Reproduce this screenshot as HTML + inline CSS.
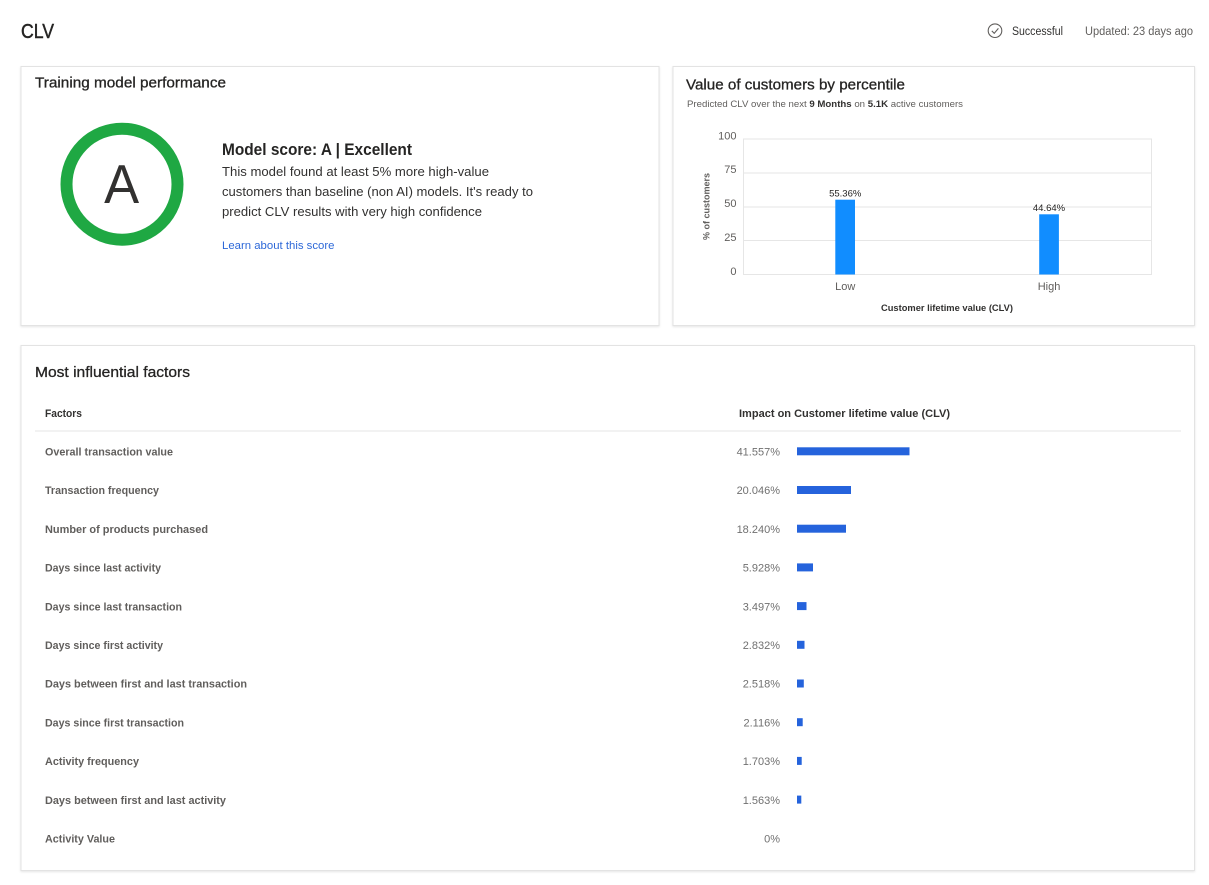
<!DOCTYPE html>
<html>
<head>
<meta charset="utf-8">
<style>
  html, body { margin: 0; padding: 0; background: #ffffff; }
  body { width: 1209px; height: 885px; overflow: hidden; }
  svg { display: block; }
  text { font-family: "Liberation Sans", "DejaVu Sans", sans-serif; }
</style>
</head>
<body>
<svg width="1209" height="885" viewBox="0 0 1209 885" xmlns="http://www.w3.org/2000/svg">
  <defs>
    <filter id="sh" x="-5%" y="-5%" width="110%" height="115%">
      <feDropShadow dx="0" dy="1" stdDeviation="1" flood-color="#000" flood-opacity="0.10"/>
    </filter>
  </defs>
  <rect x="0" y="0" width="1209" height="885" fill="#ffffff"/>

  <!-- Header -->
  <text x="21" y="38" font-size="20" fill="#252423" stroke="#252423" stroke-width="0.45" textLength="33" lengthAdjust="spacingAndGlyphs">CLV</text>
  <circle cx="995" cy="30.7" r="6.8" fill="none" stroke="#605e5c" stroke-width="1.1"/>
  <path d="M991.8 30.9 L994.2 33.3 L998.4 28.4" fill="none" stroke="#605e5c" stroke-width="1.1"/>
  <text x="1012" y="35" font-size="11.5" fill="#323130" textLength="51" lengthAdjust="spacingAndGlyphs">Successful</text>
  <text x="1085" y="35" font-size="11.5" fill="#605e5c" textLength="108" lengthAdjust="spacingAndGlyphs">Updated: 23 days ago</text>

  <!-- Cards -->
  <rect x="21" y="66.5" width="638" height="259" fill="#fff" stroke="#e3e3e3" stroke-width="1" filter="url(#sh)"/>
  <rect x="673" y="66.5" width="521.5" height="259" fill="#fff" stroke="#e3e3e3" stroke-width="1" filter="url(#sh)"/>
  <rect x="21" y="345.5" width="1173.5" height="525" fill="#fff" stroke="#e3e3e3" stroke-width="1" filter="url(#sh)"/>

  <!-- Training model performance -->
  <text x="35" y="87.5" font-size="15" fill="#252423" stroke="#252423" stroke-width="0.3" textLength="191" lengthAdjust="spacingAndGlyphs">Training model performance</text>
  <circle cx="122" cy="184.2" r="55.5" fill="none" stroke="#1fa843" stroke-width="12"/>
  <text x="121.6" y="203" font-size="55" fill="#323130" text-anchor="middle" textLength="35" lengthAdjust="spacingAndGlyphs">A</text>
  <text x="222" y="155" font-size="16.5" font-weight="bold" fill="#252423" textLength="190" lengthAdjust="spacingAndGlyphs">Model score: A | Excellent</text>
  <text x="222" y="176" font-size="13" fill="#323130" textLength="267" lengthAdjust="spacingAndGlyphs">This model found at least 5% more high-value</text>
  <text x="222" y="196" font-size="13" fill="#323130" textLength="311" lengthAdjust="spacingAndGlyphs">customers than baseline (non AI) models. It's ready to</text>
  <text x="222" y="216" font-size="13" fill="#323130" textLength="260" lengthAdjust="spacingAndGlyphs">predict CLV results with very high confidence</text>
  <text x="222" y="249" font-size="11" fill="#2d68d8" textLength="112.5" lengthAdjust="spacingAndGlyphs">Learn about this score</text>

  <!-- Value of customers by percentile -->
  <text x="686" y="89.5" font-size="15" fill="#252423" stroke="#252423" stroke-width="0.3" textLength="219" lengthAdjust="spacingAndGlyphs">Value of customers by percentile</text>
  <text x="687" y="107" font-size="9.5" fill="#605e5c" textLength="276" lengthAdjust="spacingAndGlyphs">Predicted CLV over the next <tspan font-weight="bold" fill="#323130">9 Months</tspan> on <tspan font-weight="bold" fill="#323130">5.1K</tspan> active customers</text>

  <!-- plot area -->
  <rect x="743.5" y="139" width="408" height="135.5" fill="none" stroke="#e6e6e6" stroke-width="1"/>
  <line x1="743.5" y1="173" x2="1151.5" y2="173" stroke="#e6e6e6" stroke-width="1"/>
  <line x1="743.5" y1="207" x2="1151.5" y2="207" stroke="#e6e6e6" stroke-width="1"/>
  <line x1="743.5" y1="240.5" x2="1151.5" y2="240.5" stroke="#e6e6e6" stroke-width="1"/>
  <g font-size="11" fill="#605e5c" text-anchor="end">
    <text x="736.5" y="139.5">100</text>
    <text x="736.5" y="173.2">75</text>
    <text x="736.5" y="207">50</text>
    <text x="736.5" y="241">25</text>
    <text x="736.5" y="274.8">0</text>
  </g>
  <text transform="translate(709.3,206.5) rotate(-90)" font-size="9.5" font-weight="bold" fill="#605e5c" text-anchor="middle" textLength="67" lengthAdjust="spacingAndGlyphs">% of customers</text>
  <rect x="835.3" y="199.7" width="19.7" height="74.8" fill="#118dff"/>
  <rect x="1039.2" y="214.3" width="19.7" height="60.2" fill="#118dff"/>
  <text x="845.2" y="196.5" font-size="9.5" fill="#252423" text-anchor="middle">55.36%</text>
  <text x="1049" y="211" font-size="9.5" fill="#252423" text-anchor="middle">44.64%</text>
  <text x="845.2" y="290" font-size="11" fill="#605e5c" text-anchor="middle">Low</text>
  <text x="1049" y="290" font-size="11" fill="#605e5c" text-anchor="middle">High</text>
  <text x="947" y="311" font-size="9.5" font-weight="bold" fill="#323130" text-anchor="middle" textLength="132" lengthAdjust="spacingAndGlyphs">Customer lifetime value (CLV)</text>

  <!-- Most influential factors -->
  <text x="35" y="377" font-size="15" fill="#252423" stroke="#252423" stroke-width="0.3" textLength="155" lengthAdjust="spacingAndGlyphs">Most influential factors</text>
  <text x="45" y="417" font-size="11" font-weight="bold" fill="#323130" textLength="37" lengthAdjust="spacingAndGlyphs">Factors</text>
  <text x="739" y="417" font-size="11" font-weight="bold" fill="#323130" textLength="211" lengthAdjust="spacingAndGlyphs">Impact on Customer lifetime value (CLV)</text>
  <line x1="35" y1="431" x2="1181" y2="431" stroke="#ebebeb" stroke-width="1.2"/>

  <g font-size="11" font-weight="bold" fill="#605e5c">
    <text x="45" y="455.5" textLength="128" lengthAdjust="spacingAndGlyphs">Overall transaction value</text>
    <text x="45" y="494.2" textLength="114" lengthAdjust="spacingAndGlyphs">Transaction frequency</text>
    <text x="45" y="532.9" textLength="163" lengthAdjust="spacingAndGlyphs">Number of products purchased</text>
    <text x="45" y="571.6" textLength="116" lengthAdjust="spacingAndGlyphs">Days since last activity</text>
    <text x="45" y="610.3" textLength="137" lengthAdjust="spacingAndGlyphs">Days since last transaction</text>
    <text x="45" y="649" textLength="118" lengthAdjust="spacingAndGlyphs">Days since first activity</text>
    <text x="45" y="687.7" textLength="202" lengthAdjust="spacingAndGlyphs">Days between first and last transaction</text>
    <text x="45" y="726.4" textLength="139" lengthAdjust="spacingAndGlyphs">Days since first transaction</text>
    <text x="45" y="765.1" textLength="94" lengthAdjust="spacingAndGlyphs">Activity frequency</text>
    <text x="45" y="803.8" textLength="181" lengthAdjust="spacingAndGlyphs">Days between first and last activity</text>
    <text x="45" y="842.5" textLength="70" lengthAdjust="spacingAndGlyphs">Activity Value</text>
  </g>

  <g font-size="11" fill="#707070" text-anchor="end">
    <text x="780" y="455.5">41.557%</text>
    <text x="780" y="494.2">20.046%</text>
    <text x="780" y="532.9">18.240%</text>
    <text x="780" y="571.6">5.928%</text>
    <text x="780" y="610.3">3.497%</text>
    <text x="780" y="649">2.832%</text>
    <text x="780" y="687.7">2.518%</text>
    <text x="780" y="726.4">2.116%</text>
    <text x="780" y="765.1">1.703%</text>
    <text x="780" y="803.8">1.563%</text>
    <text x="780" y="842.5">0%</text>
  </g>

  <g fill="#2563dc">
    <rect x="797" y="447.3" width="112.5" height="8"/>
    <rect x="797" y="486" width="54" height="8"/>
    <rect x="797" y="524.7" width="49" height="8"/>
    <rect x="797" y="563.4" width="16" height="8"/>
    <rect x="797" y="602.1" width="9.5" height="8"/>
    <rect x="797" y="640.8" width="7.5" height="8"/>
    <rect x="797" y="679.5" width="6.8" height="8"/>
    <rect x="797" y="718.2" width="5.7" height="8"/>
    <rect x="797" y="756.9" width="4.7" height="8"/>
    <rect x="797" y="795.6" width="4.3" height="8"/>
  </g>
</svg>
</body>
</html>
